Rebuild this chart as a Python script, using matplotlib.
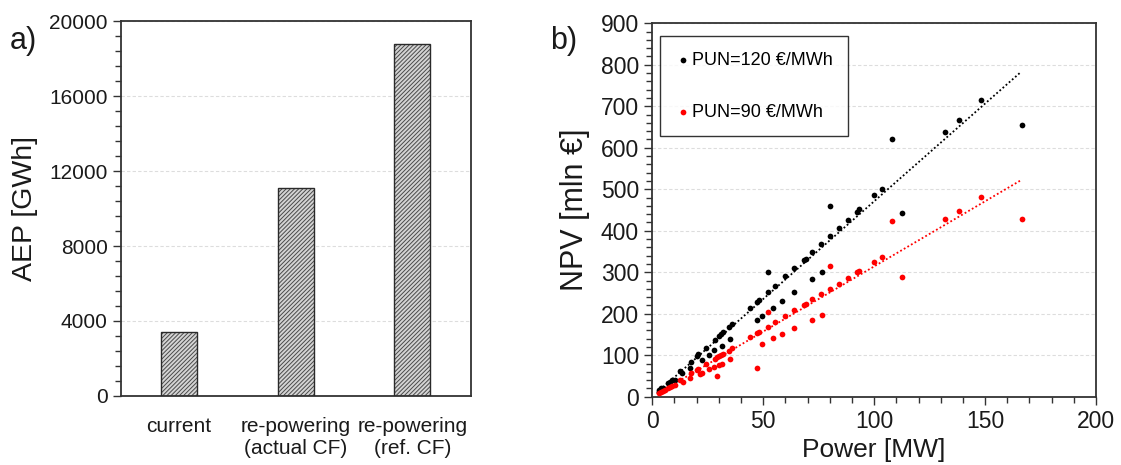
import matplotlib
matplotlib.use("Agg")
import matplotlib.pyplot as plt
from matplotlib.ticker import MultipleLocator
import numpy as np

plt.rcParams['font.family'] = ['Liberation Sans', 'DejaVu Sans']
plt.rcParams['hatch.linewidth'] = 0.7

# ---- Panel a data ----
categories = ["current", "re-powering\n(actual CF)", "re-powering\n(ref. CF)"]
aep_values = [3400, 11100, 18800]

# ---- Panel b data ----
power_120 = [166.7, 148.2, 138.1, 132.1, 108.2, 112.4, 103.7, 100.1, 93.2, 92.1,
             88.0, 84.1, 80.1, 80.1, 76.0, 76.5, 72.0, 72.0, 69.1, 68.5,
             63.9, 63.9, 60.0, 58.6, 55.3, 54.4, 52.0, 52.0, 49.6, 48.1,
             47.3, 47.3, 44.2, 36.1, 35.2, 34.4, 32.0, 31.1, 30.0, 31.3,
             28.1, 27.8, 25.7, 24.2, 22.2, 20.7, 20.0, 17.3, 17.1, 13.4,
             12.5, 10.1, 8.9, 8.0, 6.9, 5.0, 4.1, 3.0]
npv_120 = [654, 716, 668, 639, 620, 442, 500, 485, 452, 446,
           426, 407, 460, 387, 368, 300, 348, 283, 333, 329,
           310, 252, 290, 231, 268, 214, 300, 252, 195, 233,
           229, 186, 213, 175, 139, 167, 155, 152, 147, 123,
           137, 112, 101, 118, 88, 102, 98, 84, 69, 56,
           61, 41, 40, 36, 32, 22, 20, 16]

power_90 = [166.7, 148.2, 138.1, 132.1, 108.2, 112.4, 103.7, 100.1, 93.2, 92.1,
            88.0, 84.1, 80.1, 80.1, 76.0, 76.5, 72.0, 72.0, 69.1, 68.5,
            63.9, 63.9, 60.0, 58.6, 55.3, 54.4, 52.0, 52.0, 49.6, 48.1,
            47.3, 47.3, 44.2, 36.1, 35.2, 34.4, 32.0, 31.1, 30.0, 29.0,
            28.1, 31.3, 30.0, 29.3, 27.8, 25.7, 24.2, 22.2, 21.5, 20.7,
            20.0, 17.3, 17.1, 13.7, 12.5, 10.1, 8.9, 8.0, 6.9, 5.9,
            5.0, 4.1, 3.0]
npv_90 = [428, 481, 448, 429, 424, 288, 337, 325, 303, 300,
          286, 272, 315, 260, 247, 197, 235, 185, 224, 222,
          208, 165, 195, 150, 180, 141, 205, 169, 128, 157,
          153, 69, 144, 118, 91, 111, 104, 101, 98, 95,
          92, 80, 77, 51, 72, 67, 80, 58, 55, 66,
          64, 56, 46, 36, 40, 27, 26, 24, 20, 16,
          14, 12, 8]

fit_x = [2, 166]
fit_slope_120 = 4.71
fit_slope_90 = 3.14

series_labels = ["PUN=120 €/MWh", "PUN=90 €/MWh"]

fig = plt.figure(figsize=(11.21, 4.65), dpi=100)

# ---------- Panel a ----------
ax1 = fig.add_axes([0.1077, 0.1484, 0.3122, 0.8064])
xpos = np.arange(len(categories))
ax1.bar(xpos, aep_values, width=0.31, color='#d4d4d4', hatch='////////',
        edgecolor='#4a4a4a', linewidth=0, zorder=2)
ax1.bar(xpos, aep_values, width=0.31, fill=False, edgecolor='#2a2a2a',
        linewidth=1.0, zorder=3)
ax1.set_xlim(-0.5, 2.5)
ax1.set_ylim(0, 20000)
ax1.set_yticks([0, 4000, 8000, 12000, 16000, 20000])
ax1.yaxis.set_minor_locator(MultipleLocator(800))
ax1.set_xticks(xpos)
ax1.set_xticklabels(categories, fontsize=15, color='#1a1a1a')
ax1.tick_params(axis='x', length=0, pad=15)
ax1.tick_params(axis='y', which='major', length=6, width=1, labelsize=15,
                direction='out', colors='#333333', labelcolor='#1a1a1a')
ax1.tick_params(axis='y', which='minor', length=4, width=1,
                direction='out', colors='#333333')
ax1.grid(axis='y', which='major', color='#dddddd', linestyle=(0, (3, 2)),
         linewidth=0.8, zorder=0)
ax1.set_ylabel("AEP [GWh]", fontsize=20.5, labelpad=8, color='#1a1a1a')
for s in ax1.spines.values():
    s.set_linewidth(1.3)
    s.set_color('#333333')
fig.text(0.009, 0.895, "a)", fontsize=22, color='#1a1a1a')

# ---------- Panel b ----------
ax2 = fig.add_axes([0.5819, 0.1469, 0.3958, 0.8030])
ax2.grid(axis='y', which='major', color='#dddddd', linestyle=(0, (3, 2)),
         linewidth=0.8, zorder=0)
fx = np.array(fit_x, dtype=float)
ax2.plot(fx, fit_slope_120 * fx, linestyle=(0, (1, 1.3)), color='black',
         linewidth=1.3, zorder=2)
ax2.plot(fx, fit_slope_90 * fx, linestyle=(0, (1, 1.3)), color='red',
         linewidth=1.3, zorder=2)
ax2.scatter(power_120, npv_120, s=17, color='black', zorder=3,
            label=series_labels[0], linewidths=0)
ax2.scatter(power_90, npv_90, s=17, color='red', zorder=3,
            label=series_labels[1], linewidths=0)
ax2.set_xlim(0, 200)
ax2.set_ylim(0, 900)
ax2.set_xticks([0, 50, 100, 150, 200])
ax2.set_yticks(np.arange(0, 901, 100))
ax2.xaxis.set_minor_locator(MultipleLocator(10))
ax2.yaxis.set_minor_locator(MultipleLocator(20))
ax2.tick_params(which='major', length=6, width=1, labelsize=16.5,
                direction='out', colors='#333333', labelcolor='#1a1a1a')
ax2.tick_params(which='minor', length=4, width=1, direction='out',
                colors='#333333')
ax2.set_xlabel("Power [MW]", fontsize=19, labelpad=4, color='#1a1a1a')
ax2.set_ylabel("NPV [mln €]", fontsize=22, labelpad=8, color='#1a1a1a')
for s in ax2.spines.values():
    s.set_linewidth(1.3)
    s.set_color('#333333')
leg = ax2.legend(loc='upper left', bbox_to_anchor=(0.018, 0.965),
                 fontsize=13, frameon=True, fancybox=False,
                 edgecolor='black', handletextpad=0.1, labelspacing=1.95,
                 borderpad=0.85, markerscale=1.0, handlelength=0.8,
                 borderaxespad=0)
leg.get_frame().set_linewidth(1.0)
fig.text(0.491, 0.895, "b)", fontsize=22, color='#1a1a1a')

fig.savefig("out.png", dpi=100)
